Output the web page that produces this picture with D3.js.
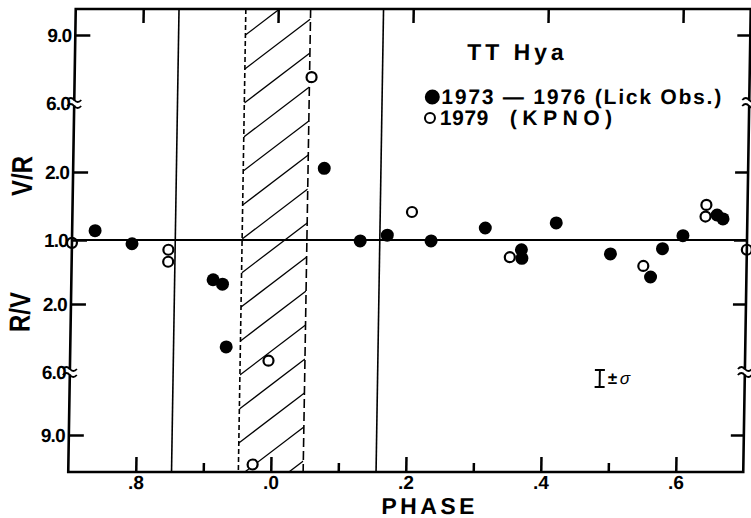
<!DOCTYPE html>
<html>
<head>
<meta charset="utf-8">
<script src="https://cdn.jsdelivr.net/npm/d3@7/dist/d3.min.js"></script>
<style>
body { margin: 0; background: #fff; }
svg { display: block; font-family: "Liberation Sans", Arial, sans-serif; font-weight: bold; }
</style>
</head>
<body>
<svg></svg>
<script>
// TT Hya, V/R ratio against phase
var lickPhase = [0.734, 0.789, 0.910, 0.924, 0.931, 1.072, 1.127, 1.167, 1.232, 1.312,
                 1.366, 1.367, 1.417, 1.498, 1.558, 1.575, 1.605, 1.655, 1.664];
var lickRatio = [1.10, 0.96, 0.65, 0.62, 0.25, 2.12, 0.99, 1.05, 0.99, 1.13,
                 0.90, 0.82, 1.19, 0.86, 0.67, 0.91, 1.045, 1.29, 1.24];
var kpnoPhase = [0.700, 0.843, 0.843, 0.973, 0.994, 1.051, 1.203, 1.349, 1.547, 1.638, 1.639, 1.700];
var kpnoRatio = [0.97, 0.90, 0.79, 0.092, 0.20, 7.0, 1.33, 0.83, 0.755, 1.27, 1.43, 0.90];

var yTickRatio = [9, 6, 2, 1, 1 / 2, 1 / 6, 1 / 9];
var yTickLabel = ["9.0", "6.0", "2.0", "1.0", "2.0", "6.0", "9.0"];
var yBreakRatio = [6, 1 / 6];
var xMajor = [0.8, 1.0, 1.2, 1.4, 1.6];
var xMajorLabel = [".8", ".0", ".2", ".4", ".6"];
var xMinor = [0.9, 1.1, 1.3, 1.5];
var contactPhase = [0.853, 1.156];
var hatchPhase = [0.952, 1.048];

var width = 751, height = 518;
var pLeft = 72, pRight = 747, pTop = 9, pBottom = 472;

var svg = d3.select("svg").attr("width", width).attr("height", height);

// the scanned figure leans a little, so the whole drawing is sheared to match
var k = 0.0162;
var g = svg.append("g")
    .attr("transform", "translate(" + (k * 240) + ",0) skewX(" + (-Math.atan(k) * 180 / Math.PI) + ")");

var lg = Math.log10;
var x = d3.scaleLinear().domain([0.7, 1.7]).range([pLeft, pRight]);
// broken axis: each labelled step gets about the same height
var y = d3.scaleLinear()
    .domain([-1.057, -lg(9), -lg(6), -lg(2), 0, lg(2), lg(6), lg(9), 1.021])
    .range([pBottom, 435, 372, 304, 240, 172, 103, 35, pTop]);
function yr(r) { return y(lg(r)); }

g.append("clipPath").attr("id", "hatchclip")
    .append("rect").attr("x", x(hatchPhase[0])).attr("y", pTop)
    .attr("width", x(hatchPhase[1]) - x(hatchPhase[0])).attr("height", pBottom - pTop);

// hatched band
var hx0 = x(hatchPhase[0]), hx1 = x(hatchPhase[1]);
g.append("g").attr("clip-path", "url(#hatchclip)")
    .selectAll("line").data(d3.range(35, 530, 34)).enter().append("line")
    .attr("x1", hx0).attr("y1", function (d) { return d; })
    .attr("x2", hx1).attr("y2", function (d) { return d - 50; })
    .attr("stroke", "#000").attr("stroke-width", 1.3);

g.append("line").attr("x1", hx0).attr("x2", hx0).attr("y1", pTop).attr("y2", pBottom)
    .attr("stroke", "#000").attr("stroke-width", 1.6).attr("stroke-dasharray", "5,3");
g.append("line").attr("x1", hx1).attr("x2", hx1).attr("y1", pTop).attr("y2", pBottom)
    .attr("stroke", "#000").attr("stroke-width", 1.6).attr("stroke-dasharray", "9,4");

g.selectAll(".contact").data(contactPhase).enter().append("line")
    .attr("class", "contact")
    .attr("x1", function (d) { return x(d); }).attr("x2", function (d) { return x(d); })
    .attr("y1", pTop).attr("y2", pBottom)
    .attr("stroke", "#000").attr("stroke-width", 1.6);

// V/R = 1 line
g.append("line").attr("x1", pLeft).attr("x2", pRight).attr("y1", yr(1)).attr("y2", yr(1))
    .attr("stroke", "#000").attr("stroke-width", 1.8);

// points
g.selectAll(".lick").data(lickPhase).enter().append("circle")
    .attr("class", "lick")
    .attr("cx", function (d) { return x(d); })
    .attr("cy", function (d, i) { return yr(lickRatio[i]); })
    .attr("r", 6.5).attr("fill", "#000");

g.selectAll(".kpno").data(kpnoPhase).enter().append("circle")
    .attr("class", "kpno")
    .attr("cx", function (d) { return x(d); })
    .attr("cy", function (d, i) { return yr(kpnoRatio[i]); })
    .attr("r", 5).attr("fill", "#fff").attr("stroke", "#000").attr("stroke-width", 2.2);

// axes
function styleAxis(sel, size) {
    sel.select(".domain").remove();
    sel.selectAll(".tick line").attr("stroke-width", 2.5);
    sel.selectAll("text").attr("font-size", size).attr("font-weight", "bold")
        .attr("font-family", "'Liberation Sans', Arial, sans-serif").attr("fill", "#000");
}

var xBottom = g.append("g").attr("transform", "translate(0," + pBottom + ")")
    .call(d3.axisBottom(x).tickValues(xMajor).tickSize(-15).tickPadding(4)
        .tickFormat(function (d, i) { return xMajorLabel[i]; }));
styleAxis(xBottom, 19);

var xBottomMinor = g.append("g").attr("transform", "translate(0," + pBottom + ")")
    .call(d3.axisBottom(x).tickValues(xMinor).tickSize(-9).tickFormat(""));
styleAxis(xBottomMinor, 10);

var xTop = g.append("g").attr("transform", "translate(0," + pTop + ")")
    .call(d3.axisTop(x).tickValues(xMajor).tickSize(-14).tickFormat(""));
styleAxis(xTop, 10);

var yLeft = g.append("g").attr("transform", "translate(" + pLeft + ",0)")
    .call(d3.axisLeft(y).tickValues(yTickRatio.map(lg)).tickSize(-15).tickPadding(4)
        .tickFormat(function (d, i) { return yTickLabel[i]; }));
styleAxis(yLeft, 19);
yLeft.selectAll("text").attr("letter-spacing", -0.8);

var yRight = g.append("g").attr("transform", "translate(" + pRight + ",0)")
    .call(d3.axisRight(y).tickValues(yTickRatio.map(lg)).tickSize(-13).tickFormat(""));
styleAxis(yRight, 10);

// no tick at the breaks
[yLeft, yRight].forEach(function (a) {
    a.selectAll(".tick").filter(function (d) {
        return yBreakRatio.some(function (b) { return Math.abs(lg(b) - d) < 1e-9; });
    }).select("line").remove();
});

// frame
g.append("rect").attr("x", pLeft).attr("y", pTop).attr("width", pRight - pLeft).attr("height", pBottom - pTop)
    .attr("fill", "none").attr("stroke", "#000").attr("stroke-width", 2.6);

// break marks on both sides
var breaks = [];
yBreakRatio.forEach(function (b) { breaks.push([pLeft, yr(b)]); breaks.push([pRight, yr(b)]); });
g.selectAll(".brk").data(breaks).enter().append("rect")
    .attr("x", function (d) { return d[0] - 3; }).attr("y", function (d) { return d[1] - 2.5; })
    .attr("width", 6).attr("height", 5).attr("fill", "#fff");
g.selectAll(".brkline").data(breaks.concat(breaks.map(function (d) { return [d[0], d[1], 1]; })))
    .enter().append("path")
    .attr("d", function (d) {
        var yy = d[1] + (d[2] ? 3 : -3);
        return "M" + (d[0] - 7) + "," + yy + " q3.5,-4 7,0 t7,0";
    })
    .attr("fill", "none").attr("stroke", "#000").attr("stroke-width", 1.8);

// axis titles
g.append("text").attr("transform", "translate(31,176) rotate(-90)")
    .attr("text-anchor", "middle").attr("font-size", 29)
    .attr("textLength", 40).attr("lengthAdjust", "spacingAndGlyphs").text("V/R");
g.append("text").attr("transform", "translate(31,312) rotate(-90)")
    .attr("text-anchor", "middle").attr("font-size", 29)
    .attr("textLength", 40).attr("lengthAdjust", "spacingAndGlyphs").text("R/V");
g.append("text").attr("x", 434).attr("y", 514).attr("text-anchor", "middle")
    .attr("font-size", 23).attr("letter-spacing", 3.5).text("PHASE");

// title and legend
g.append("text").attr("x", 464).attr("y", 60).attr("font-size", 23).attr("letter-spacing", 4).text("TT Hya");
g.append("circle").attr("cx", 430).attr("cy", 97).attr("r", 7.5).attr("fill", "#000");
g.append("text").attr("x", 439).attr("y", 104).attr("font-size", 21).attr("letter-spacing", 1.8)
    .text("1973 \u2014 1976 (Lick Obs.)");
g.append("circle").attr("cx", 428).attr("cy", 118).attr("r", 5)
    .attr("fill", "#fff").attr("stroke", "#000").attr("stroke-width", 2);
g.append("text").attr("x", 438).attr("y", 125).attr("font-size", 21).attr("letter-spacing", 0.5).text("1979");
g.append("text").attr("x", 508).attr("y", 125).attr("font-size", 21).attr("letter-spacing", 5.5).text("(KPNO)");

// ±σ error bar
var eb = g.append("g").attr("stroke", "#000").attr("stroke-width", 2);
eb.append("line").attr("x1", 602).attr("x2", 602).attr("y1", 370).attr("y2", 387);
eb.append("line").attr("x1", 597).attr("x2", 607).attr("y1", 370).attr("y2", 370);
eb.append("line").attr("x1", 597).attr("x2", 607).attr("y1", 387).attr("y2", 387);
g.append("text").attr("x", 610).attr("y", 384).attr("font-size", 17).text("\u00b1");
g.append("text").attr("x", 622).attr("y", 384).attr("font-size", 17)
    .attr("font-style", "italic").attr("font-weight", "normal").text("\u03c3");
</script>
</body>
</html>
